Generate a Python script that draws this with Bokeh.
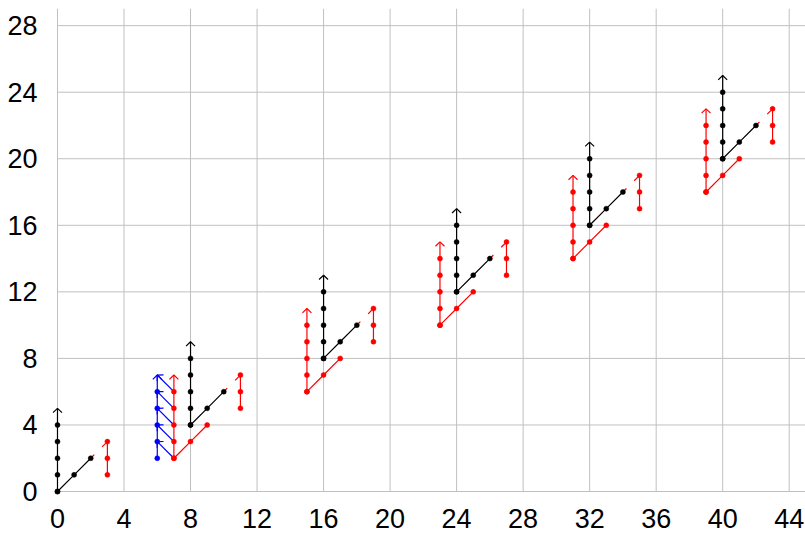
import math
from bokeh.plotting import figure
from bokeh.models import FixedTicker, Range1d
from bokeh.embed import file_html
from bokeh.resources import INLINE

# ---------------- data ----------------
x_ticks = [0, 4, 8, 12, 16, 20, 24, 28, 32, 36, 40, 44]
y_ticks = [0, 4, 8, 12, 16, 20, 24, 28]
x_lim = [0, 44.98]
y_lim = [0, 29.03]

# black vertical chains (each ends with an arrow to the tip)
black_up_x = [[0, 0, 0, 0, 0], [8, 8, 8, 8, 8], [16, 16, 16, 16, 16],
              [24, 24, 24, 24, 24], [32, 32, 32, 32, 32], [40, 40, 40, 40, 40]]
black_up_y = [[0, 1, 2, 3, 4], [4, 5, 6, 7, 8], [8, 9, 10, 11, 12],
              [12, 13, 14, 15, 16], [16, 17, 18, 19, 20], [20, 21, 22, 23, 24]]
black_up_tip = [5, 9, 13, 17, 21, 25]

# black diagonal chains
black_diag_x = [[0, 1, 2], [8, 9, 10], [16, 17, 18], [24, 25, 26], [32, 33, 34], [40, 41, 42]]
black_diag_y = [[0, 1, 2], [4, 5, 6], [8, 9, 10], [12, 13, 14], [16, 17, 18], [20, 21, 22]]

# red dashed links
link_x0 = [2, 10, 18, 26, 34, 42]
link_y0 = [2, 6, 10, 14, 18, 22]
link_x1 = [3, 11, 19, 27, 35, 43]
link_y1 = [3, 7, 11, 15, 19, 23]

# red right-hand vertical chains
red_right_x = [[3, 3, 3], [11, 11, 11], [19, 19, 19], [27, 27, 27], [35, 35, 35], [43, 43, 43]]
red_right_y = [[1, 2, 3], [5, 6, 7], [9, 10, 11], [13, 14, 15], [17, 18, 19], [21, 22, 23]]

# red left-hand vertical chains (with arrow)
red_up_x = [[7, 7, 7, 7, 7], [15, 15, 15, 15, 15], [23, 23, 23, 23, 23],
            [31, 31, 31, 31, 31], [39, 39, 39, 39, 39]]
red_up_y = [[2, 3, 4, 5, 6], [6, 7, 8, 9, 10], [10, 11, 12, 13, 14],
            [14, 15, 16, 17, 18], [18, 19, 20, 21, 22]]
red_up_tip = [7, 11, 15, 19, 23]

# red diagonal chains
red_diag_x = [[7, 8, 9], [15, 16, 17], [23, 24, 25], [31, 32, 33], [39, 40, 41]]
red_diag_y = [[2, 3, 4], [6, 7, 8], [10, 11, 12], [14, 15, 16], [18, 19, 20]]

# blue chain and blue arrows
blue_up_x = [[6, 6, 6, 6, 6]]
blue_up_y = [[2, 3, 4, 5, 6]]
blue_up_tip = [7]
blue_arr_x0 = [7, 7, 7, 7, 7]
blue_arr_y0 = [2, 3, 4, 5, 6]
blue_arr_x1 = [6, 6, 6, 6, 6]
blue_arr_y1 = [3, 4, 5, 6, 7]

BLACK = "#000000"
RED = "#ff0000"
BLUE = "#0000ff"
GRID = "#c0c0c0"
LW = 1.2
HEAD_BACK = 0.26
HEAD_HALF = 0.27
PAD = 0.30

# ---------------- figure ----------------
p = figure(width=805, height=533,
           x_range=Range1d(x_lim[0] - PAD, x_lim[1]),
           y_range=Range1d(y_lim[0] - PAD, y_lim[1]),
           output_backend="svg", toolbar_location=None,
           min_border_left=52, min_border_right=0,
           min_border_top=8, min_border_bottom=37)
p.outline_line_color = None
p.background_fill_color = "white"
p.border_fill_color = "white"
p.grid.visible = False

p.xaxis.ticker = FixedTicker(ticks=x_ticks)
p.yaxis.ticker = FixedTicker(ticks=y_ticks)
for ax in (p.xaxis, p.yaxis):
    ax.axis_line_color = None
    ax.major_tick_line_color = None
    ax.minor_tick_line_color = None
    ax.major_tick_out = 0
    ax.major_tick_in = 0
    ax.minor_tick_out = 0
    ax.major_label_text_font = "Liberation Sans"
    ax.major_label_text_font_size = "27px"
    ax.major_label_text_color = "#000000"
p.xaxis.major_label_standoff = 12
p.yaxis.major_label_standoff = 15

# grid lines limited to the data area
p.segment(x_ticks, [y_lim[0]] * len(x_ticks), x_ticks, [y_lim[1]] * len(x_ticks),
          line_color=GRID, line_width=1, level="underlay")
p.segment([x_lim[0]] * len(y_ticks), y_ticks, [x_lim[1]] * len(y_ticks), y_ticks,
          line_color=GRID, line_width=1, level="underlay")


def chains(xs, ys, color):
    p.multi_line(xs, ys, line_color=color, line_width=LW)


def dots(xs, ys, color):
    fx = [v for row in xs for v in row]
    fy = [v for row in ys for v in row]
    p.scatter(fx, fy, size=5, fill_color=color, line_color=color, line_width=0.5)


def arrows(x0, y0, x1, y1, color):
    p.segment(x0, y0, x1, y1, line_color=color, line_width=LW)
    hx, hy = [], []
    for a, b, c, d in zip(x0, y0, x1, y1):
        L = math.hypot(c - a, d - b)
        ux, uy = (c - a) / L, (d - b) / L
        nx, ny = -uy, ux
        bx, by = c - HEAD_BACK * ux, d - HEAD_BACK * uy
        hx.append([bx + HEAD_HALF * nx, c, bx - HEAD_HALF * nx])
        hy.append([by + HEAD_HALF * ny, d, by - HEAD_HALF * ny])
    p.multi_line(hx, hy, line_color=color, line_width=LW)


# lines
chains(black_up_x, black_up_y, BLACK)
chains(black_diag_x, black_diag_y, BLACK)
chains(red_right_x, red_right_y, RED)
chains(red_up_x, red_up_y, RED)
chains(red_diag_x, red_diag_y, RED)
chains(blue_up_x, blue_up_y, BLUE)
p.segment(link_x0, link_y0, link_x1, link_y1, line_color=RED, line_width=LW, line_dash="5 11")

# arrows
arrows([r[0] for r in black_up_x], [r[-1] for r in black_up_y],
       [r[0] for r in black_up_x], black_up_tip, BLACK)
arrows([r[0] for r in red_up_x], [r[-1] for r in red_up_y],
       [r[0] for r in red_up_x], red_up_tip, RED)
arrows([r[0] for r in blue_up_x], [r[-1] for r in blue_up_y],
       [r[0] for r in blue_up_x], blue_up_tip, BLUE)
arrows(blue_arr_x0, blue_arr_y0, blue_arr_x1, blue_arr_y1, BLUE)

# dots
dots(blue_up_x, blue_up_y, BLUE)
dots(black_up_x, black_up_y, BLACK)
dots(black_diag_x, black_diag_y, BLACK)
dots(red_right_x, red_right_y, RED)
dots(red_up_x, red_up_y, RED)
dots(red_diag_x, red_diag_y, RED)

open("out.html", "w").write(file_html(p, INLINE))
